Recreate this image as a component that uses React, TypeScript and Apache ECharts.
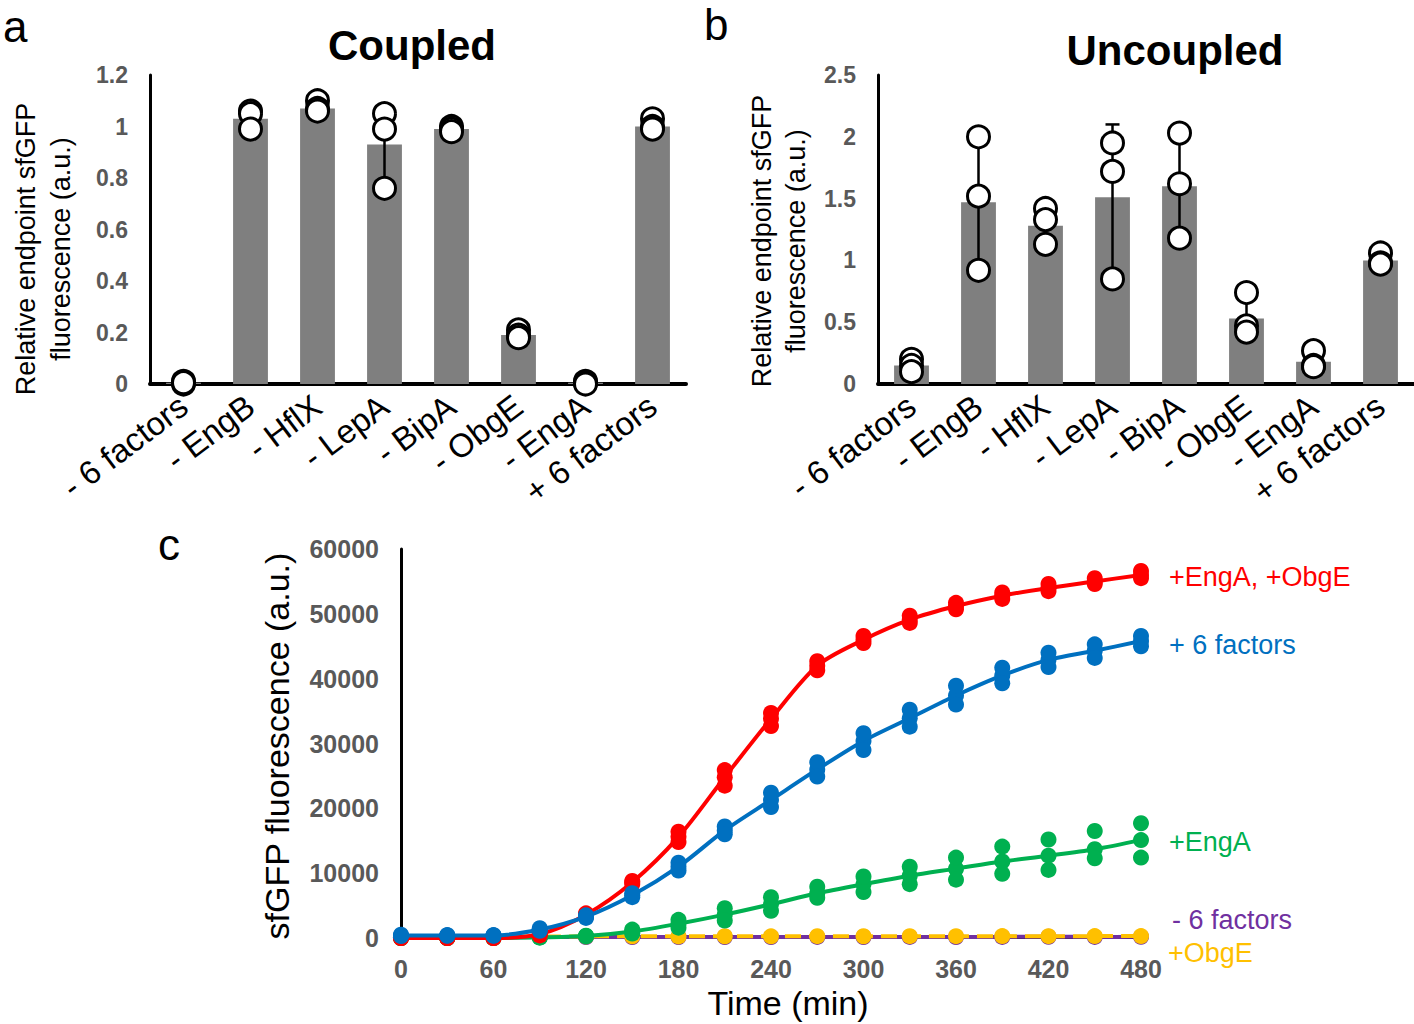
import React, { useEffect, useRef } from 'react'
import * as echarts from 'echarts'

// 柱状图类别
const CATS = ['- 6 factors', '- EngB', '- HflX', '- LepA', '- BipA', '- ObgE', '- EngA', '+ 6 factors']

// a: Coupled
const coupledMean = [0.005, 1.03, 1.07, 0.93, 0.99, 0.19, 0.005, 1.0]
const coupledSD = [0.005, 0.035, 0.02, 0.15, 0.01, 0.015, 0.005, 0.02]
const coupledPts = [
  [0.01, 0.0, 0.005],
  [1.06, 1.05, 0.99],
  [1.1, 1.07, 1.06],
  [1.05, 0.99, 0.76],
  [1.0, 0.99, 0.98],
  [0.21, 0.19, 0.18],
  [0.01, 0.005, 0.0],
  [1.03, 1.0, 0.99],
]

// b: Uncoupled
const uncoupledMean = [0.15, 1.47, 1.28, 1.51, 1.6, 0.53, 0.18, 1.0]
const uncoupledSD = [0.05, 0.54, 0.15, 0.59, 0.43, 0.17, 0.07, 0.05]
const uncoupledPts = [
  [0.2, 0.15, 0.1],
  [2.0, 1.52, 0.92],
  [1.42, 1.33, 1.13],
  [1.95, 1.72, 0.85],
  [2.03, 1.62, 1.18],
  [0.74, 0.47, 0.42],
  [0.27, 0.15, 0.14],
  [1.06, 0.98, 0.97],
]

// c: 时间曲线
const TIME = [0, 30, 60, 90, 120, 150, 180, 210, 240, 270, 300, 330, 360, 390, 420, 450, 480]

const redMean = [0, 0, 0, 600, 3600, 8600, 15600, 24800, 33800, 42000, 46000, 49100, 51200, 52800, 54000, 55000, 56000]
const redRep1 = [100, 50, 50, 800, 3800, 8800, 16400, 25900, 34700, 42700, 46600, 49700, 51700, 53300, 54600, 55500, 56600]
const redRep2 = [0, 0, 0, 400, 3300, 8300, 14800, 23500, 32700, 41300, 45500, 48600, 50700, 52300, 53500, 54600, 55500]

const blueMean = [400, 400, 400, 1300, 3300, 6600, 11000, 16600, 21300, 26000, 30400, 33900, 37400, 40500, 42900, 44300, 45800]
const blueRep1 = [500, 450, 450, 1500, 3500, 6900, 11600, 17200, 22400, 27100, 31600, 35200, 38900, 41700, 44000, 45300, 46600]
const blueRep2 = [300, 350, 350, 1100, 3100, 6300, 10400, 16000, 20200, 24900, 29000, 32600, 36000, 39300, 41800, 43200, 45000]

const greenMean = [0, 0, 0, 100, 300, 1000, 2200, 3600, 5200, 6900, 8300, 9600, 10700, 11800, 12700, 13700, 15100]
const greenRep1 = [0, 0, 0, 150, 350, 1300, 2800, 4600, 6300, 7900, 9500, 11000, 12400, 14100, 15200, 16500, 17700]
const greenRep2 = [0, 0, 0, 50, 250, 700, 1600, 2700, 4200, 6200, 7100, 8300, 9000, 9900, 10500, 12300, 12400]

const purpleMean = [100, 120, 100, 150, 150, 150, 160, 150, 160, 170, 160, 170, 160, 170, 180, 170, 180]
const yellowMean = [200, 220, 200, 250, 250, 260, 250, 270, 260, 280, 270, 280, 280, 290, 280, 290, 300]

const RED = '#ff0000'
const BLUE = '#0070c0'
const GREEN = '#00b050'
const PURPLE = '#7030a0'
const YELLOW = '#ffc000'

const FONT = "'Liberation Sans', Arial, sans-serif"

const tickLabel = {
  color: '#595959',
  fontWeight: 'bold' as const,
  fontFamily: FONT,
}

const barSeries = (idx: number, means: number[]) => ({
  type: 'bar',
  xAxisIndex: idx,
  yAxisIndex: idx,
  data: means,
  barWidth: '52%',
  itemStyle: { color: '#7f7f7f' },
  z: 2,
})

// 误差线
const errSeries = (idx: number, means: number[], sds: number[]) => ({
  type: 'custom',
  xAxisIndex: idx,
  yAxisIndex: idx,
  z: 3,
  data: means.map((m, i) => [i, m - sds[i], m + sds[i]]),
  renderItem: (_p: any, api: any) => {
    const lo = api.coord([api.value(0), api.value(1)])
    const hi = api.coord([api.value(0), api.value(2)])
    const cap = 7
    const style = { stroke: '#000', lineWidth: 2.5 }
    return {
      type: 'group',
      children: [
        { type: 'line', shape: { x1: lo[0], y1: lo[1], x2: hi[0], y2: hi[1] }, style },
        { type: 'line', shape: { x1: hi[0] - cap, y1: hi[1], x2: hi[0] + cap, y2: hi[1] }, style },
        { type: 'line', shape: { x1: lo[0] - cap, y1: lo[1], x2: lo[0] + cap, y2: lo[1] }, style },
      ],
    }
  },
})

const dotSeries = (idx: number, pts: number[][]) => ({
  type: 'scatter',
  xAxisIndex: idx,
  yAxisIndex: idx,
  z: 4,
  symbol: 'circle',
  symbolSize: 22,
  itemStyle: { color: '#fff', borderColor: '#000', borderWidth: 3, opacity: 1 },
  data: pts.flatMap((arr, i) => arr.map((v) => [i, v])),
})

const curve = (mean: number[], color: string, z: number, dashed = false) => ({
  type: 'line',
  xAxisIndex: 2,
  yAxisIndex: 2,
  data: TIME.map((t, i) => [t, mean[i]]),
  smooth: 0.3,
  symbol: 'circle',
  symbolSize: 16,
  itemStyle: { color },
  lineStyle: { color, width: 4, type: dashed ? [16, 8] : 'solid' },
  z,
})

const reps = (a: number[], b: number[], color: string, z: number) => ({
  type: 'scatter',
  xAxisIndex: 2,
  yAxisIndex: 2,
  symbolSize: 16,
  itemStyle: { color, opacity: 1 },
  data: [...TIME.map((t, i) => [t, a[i]]), ...TIME.map((t, i) => [t, b[i]])],
  z,
})

const catAxis = (idx: number) => ({
  type: 'category',
  gridIndex: idx,
  data: CATS,
  axisLine: { lineStyle: { color: '#000', width: 4 } },
  axisTick: { show: false },
  axisLabel: {
    rotate: 37,
    color: '#000',
    fontSize: 33,
    fontFamily: FONT,
    margin: 18,
    interval: 0,
  },
})

const valAxis = (idx: number, max: number, interval: number, fontSize: number) => ({
  type: 'value',
  gridIndex: idx,
  min: 0,
  max,
  interval,
  splitLine: { show: false },
  axisTick: { show: false },
  axisLine: { show: true, lineStyle: { color: '#000', width: 3 } },
  axisLabel: { ...tickLabel, fontSize, margin: 22, formatter: (v: number) => String(+v.toFixed(1)) },
})

const App: React.FC = () => {
  const chartRef = useRef<HTMLDivElement>(null)

  useEffect(() => {
    if (!chartRef.current) return
    const chart = echarts.init(chartRef.current, undefined, { renderer: 'svg' })

    const yName = (text: string, x: number, y: number, fontSize: number, lineHeight?: number) => ({
      type: 'text',
      x,
      y,
      rotation: Math.PI / 2,
      style: {
        text,
        fontSize,
        lineHeight,
        fontFamily: FONT,
        fill: '#000',
        align: 'center',
        verticalAlign: 'middle',
      },
    })

    const sideLabel = (text: string, x: number, y: number, fill: string) => ({
      type: 'text',
      x,
      y,
      style: { text, fontSize: 27, fontFamily: FONT, fill, verticalAlign: 'middle' },
    })

    const option = {
      animation: false,
      backgroundColor: '#fff',
      grid: [
        { left: 150, top: 75, width: 536, height: 309, outerBoundsMode: 'none' },
        { left: 878, top: 75, width: 536, height: 309, outerBoundsMode: 'none' },
        { left: 401, top: 549, width: 740, height: 389, outerBoundsMode: 'none' },
      ],
      xAxis: [
        catAxis(0),
        catAxis(1),
        {
          type: 'value',
          gridIndex: 2,
          min: 0,
          max: 480,
          interval: 60,
          splitLine: { show: false },
          axisTick: { show: false },
          axisLine: { onZero: false, lineStyle: { color: '#000', width: 2 } },
          axisLabel: { ...tickLabel, fontSize: 25, margin: 18 },
        },
      ],
      yAxis: [
        valAxis(0, 1.2, 0.2, 23),
        valAxis(1, 2.5, 0.5, 23),
        valAxis(2, 60000, 10000, 25),
      ],
      series: [
        barSeries(0, coupledMean),
        errSeries(0, coupledMean, coupledSD),
        dotSeries(0, coupledPts),
        barSeries(1, uncoupledMean),
        errSeries(1, uncoupledMean, uncoupledSD),
        dotSeries(1, uncoupledPts),
        curve(purpleMean, PURPLE, 2),
        curve(yellowMean, YELLOW, 3, true),
        curve(greenMean, GREEN, 4),
        reps(greenRep1, greenRep2, GREEN, 4),
        curve(redMean, RED, 5),
        reps(redRep1, redRep2, RED, 5),
        curve(blueMean, BLUE, 6),
        reps(blueRep1, blueRep2, BLUE, 6),
      ],
      graphic: [
        { type: 'text', left: 3, top: 4, style: { text: 'a', fontSize: 44, fontFamily: FONT, fill: '#000' } },
        { type: 'text', left: 704, top: 2, style: { text: 'b', fontSize: 44, fontFamily: FONT, fill: '#000' } },
        { type: 'text', left: 158, top: 522, style: { text: 'c', fontSize: 44, fontFamily: FONT, fill: '#000' } },
        {
          type: 'text', x: 412, y: 45,
          style: { text: 'Coupled', fontSize: 42, fontWeight: 'bold', fontFamily: FONT, fill: '#000', align: 'center', verticalAlign: 'middle' },
        },
        {
          type: 'text', x: 1175, y: 50,
          style: { text: 'Uncoupled', fontSize: 42, fontWeight: 'bold', fontFamily: FONT, fill: '#000', align: 'center', verticalAlign: 'middle' },
        },
        yName('Relative endpoint sfGFP\nfluorescence (a.u.)', 43, 249, 27, 35),
        yName('Relative endpoint sfGFP\nfluorescence (a.u.)', 779, 241, 27, 34),
        yName('sfGFP fluorescence (a.u.)', 277, 746, 34),
        {
          type: 'text', x: 788, y: 1003,
          style: { text: 'Time (min)', fontSize: 34, fontFamily: FONT, fill: '#000', align: 'center', verticalAlign: 'middle' },
        },
        sideLabel('+EngA, +ObgE', 1169, 577, RED),
        sideLabel('+ 6 factors', 1169, 645, BLUE),
        sideLabel('+EngA', 1169, 842, GREEN),
        sideLabel('- 6 factors', 1172, 920, PURPLE),
        sideLabel('+ObgE', 1168, 953, YELLOW),
      ],
    }

    chart.setOption(option as any)
    return () => {
      chart.dispose()
    }
  }, [])

  return (
    <div
      ref={chartRef}
      style={{ position: 'absolute', left: 0, top: 0, width: 1414, height: 1024, background: '#fff' }}
    />
  )
}

export default App
